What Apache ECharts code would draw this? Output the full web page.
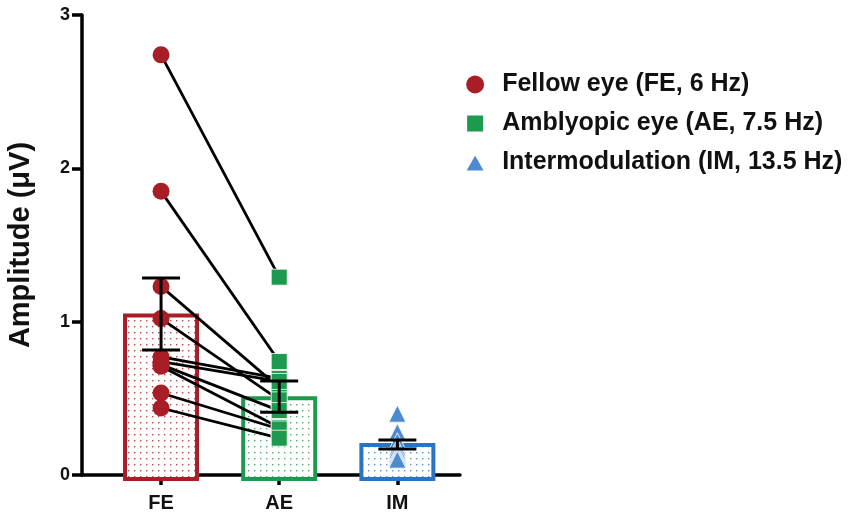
<!DOCTYPE html>
<html>
<head>
<meta charset="utf-8">
<script src="https://cdn.jsdelivr.net/npm/echarts@6/dist/echarts.min.js"></script>
<style>html,body{margin:0;padding:0;background:#fff;}#c{width:851px;height:517px;}</style>
</head>
<body>
<div id="c"></div>
<script>
// ---- data ----
var categories = ['FE', 'AE', 'IM'];
var seriesNames = ['Fellow eye (FE, 6 Hz)', 'Amblyopic eye (AE, 7.5 Hz)', 'Intermodulation (IM, 13.5 Hz)'];
var feValues = [2.74, 1.85, 1.23, 1.02, 0.77, 0.74, 0.72, 0.71, 0.535, 0.437];
var aeValues = [1.29, 0.74, 0.57, 0.49, 0.63, 0.61, 0.42, 0.31, 0.30, 0.24];
var imValues = [0.40, 0.28, 0.22, 0.18, 0.16, 0.14, 0.13, 0.12, 0.11, 0.10];
var barMeans = [1.04, 0.50, 0.195];
var errLow = [0.815, 0.41, 0.17];
var errHigh = [1.285, 0.613, 0.228];
var yTicks = [0, 1, 2, 3];

var colRed = '#A81E26', colGreen = '#1E9A4E', colBlueBar = '#2B74C4', colBlue = '#4E8ACF';
var barColors = [colRed, colGreen, colBlueBar];

function dotPattern(color) {
  var c = document.createElement('canvas');
  c.width = 6; c.height = 6;
  var g = c.getContext('2d');
  g.fillStyle = '#ffffff'; g.fillRect(0, 0, 6, 6);
  g.fillStyle = color; g.globalAlpha = 0.8;
  g.fillRect(2, 2, 1.4, 1.4);
  return c;
}
var patterns = barColors.map(function (c) { return { image: dotPattern(c), repeat: 'repeat' }; });

var chart = echarts.init(document.getElementById('c'), null, { renderer: 'canvas' });

var series = [];
// bars
series.push({
  type: 'custom', name: 'bars', z: 1,
  data: barMeans.map(function (m, i) { return [i, m]; }),
  renderItem: function (params, api) {
    var i = api.value(0);
    var p0 = api.coord([i, 0]);
    var p1 = api.coord([i, api.value(1)]);
    var hw = 36;
    return {
      type: 'rect',
      shape: { x: p0[0] - hw, y: p1[1], width: hw * 2, height: p0[1] - p1[1] + 4 },
      style: { fill: patterns[i], stroke: barColors[i], lineWidth: 4 }
    };
  },
  silent: true
});
// connecting lines
for (var k = 0; k < feValues.length; k++) {
  series.push({
    type: 'line', z: 2, symbol: 'none', silent: true,
    lineStyle: { color: '#000', width: 2.8 },
    data: [[0, feValues[k]], [1, aeValues[k]]]
  });
}
// points
series.push({
  type: 'scatter', name: seriesNames[0], z: 3, symbol: 'circle', symbolSize: 17,
  itemStyle: { color: colRed, opacity: 1 },
  data: feValues.map(function (v) { return [0, v]; })
});
series.push({
  type: 'scatter', name: seriesNames[1], z: 3, symbol: 'rect', symbolSize: 16,
  itemStyle: { color: colGreen, opacity: 1, borderColor: '#fff', borderWidth: 0.8 },
  data: aeValues.map(function (v) { return [1, v]; })
});
series.push({
  type: 'scatter', name: seriesNames[2], z: 3, symbol: 'triangle', symbolSize: 17,
  itemStyle: { color: colBlue, opacity: 1, borderColor: '#fff', borderWidth: 0.8 },
  data: imValues.map(function (v) { return [2, v]; })
});
// error bars
series.push({
  type: 'custom', name: 'err', z: 4, silent: true,
  data: errLow.map(function (l, i) { return [i, l, errHigh[i]]; }),
  renderItem: function (params, api) {
    var i = api.value(0);
    var lo = api.coord([i, api.value(1)]);
    var hi = api.coord([i, api.value(2)]);
    var cw = 19;
    var st = { stroke: '#000', lineWidth: 3 };
    return {
      type: 'group',
      children: [
        { type: 'line', shape: { x1: lo[0], y1: lo[1], x2: hi[0], y2: hi[1] }, style: st },
        { type: 'line', shape: { x1: lo[0] - cw, y1: lo[1], x2: lo[0] + cw, y2: lo[1] }, style: st },
        { type: 'line', shape: { x1: hi[0] - cw, y1: hi[1], x2: hi[0] + cw, y2: hi[1] }, style: st }
      ]
    };
  }
});

var font = 'Liberation Sans, Arial, sans-serif';
chart.setOption({
  animation: false,
  backgroundColor: '#fff',
  textStyle: { fontFamily: font },
  grid: { left: 82, right: 391, top: 15, bottom: 42, containLabel: false },
  legend: {
    orient: 'vertical', left: 459, top: 67,
    itemWidth: 44, itemHeight: 18, itemGap: 14,
    symbolKeepAspect: true,
    data: [
      { name: seriesNames[0], icon: 'path://M10,0 A10,10 0 1,1 10,20 A10,10 0 1,1 10,0 Z' },
      { name: seriesNames[1], icon: 'path://M0,0 L17,0 L17,17 L0,17 Z' },
      { name: seriesNames[2], icon: 'path://M9,0 L18,16 L0,16 Z' }
    ],
    textStyle: { fontSize: 25, fontWeight: 'bold', color: '#111', fontFamily: font },
    selectedMode: false
  },
  xAxis: {
    type: 'value', min: -0.669, max: 2.53,
    splitLine: { show: false },
    axisLine: { onZero: false, lineStyle: { color: '#000', width: 3.5 } },
    axisTick: { show: true, customValues: [0, 1, 2], length: 10, lineStyle: { color: '#000', width: 3.5 } },
    axisLabel: {
      customValues: [0, 1, 2], margin: 18,
      fontSize: 20, fontWeight: 'bold', color: '#111', fontFamily: font,
      formatter: function (v) { return categories[Math.round(v)] || ''; }
    }
  },
  yAxis: {
    type: 'value', min: 0, max: 3, interval: 1,
    name: 'Amplitude (μV)', nameLocation: 'middle', nameGap: 47, nameRotate: 90,
    nameTextStyle: { fontSize: 29, fontWeight: 'bold', color: '#111', fontFamily: font },
    splitLine: { show: false },
    axisLine: { show: true, onZero: false, lineStyle: { color: '#000', width: 3.5 } },
    axisTick: { show: true, length: 10, lineStyle: { color: '#000', width: 3.5 } },
    axisLabel: {
      margin: 12, fontSize: 18, fontWeight: 'bold', color: '#111', fontFamily: font,
      formatter: function (v) { return yTicks.indexOf(v) >= 0 ? String(v) : ''; }
    }
  },
  series: series
});
</script>
</body>
</html>
